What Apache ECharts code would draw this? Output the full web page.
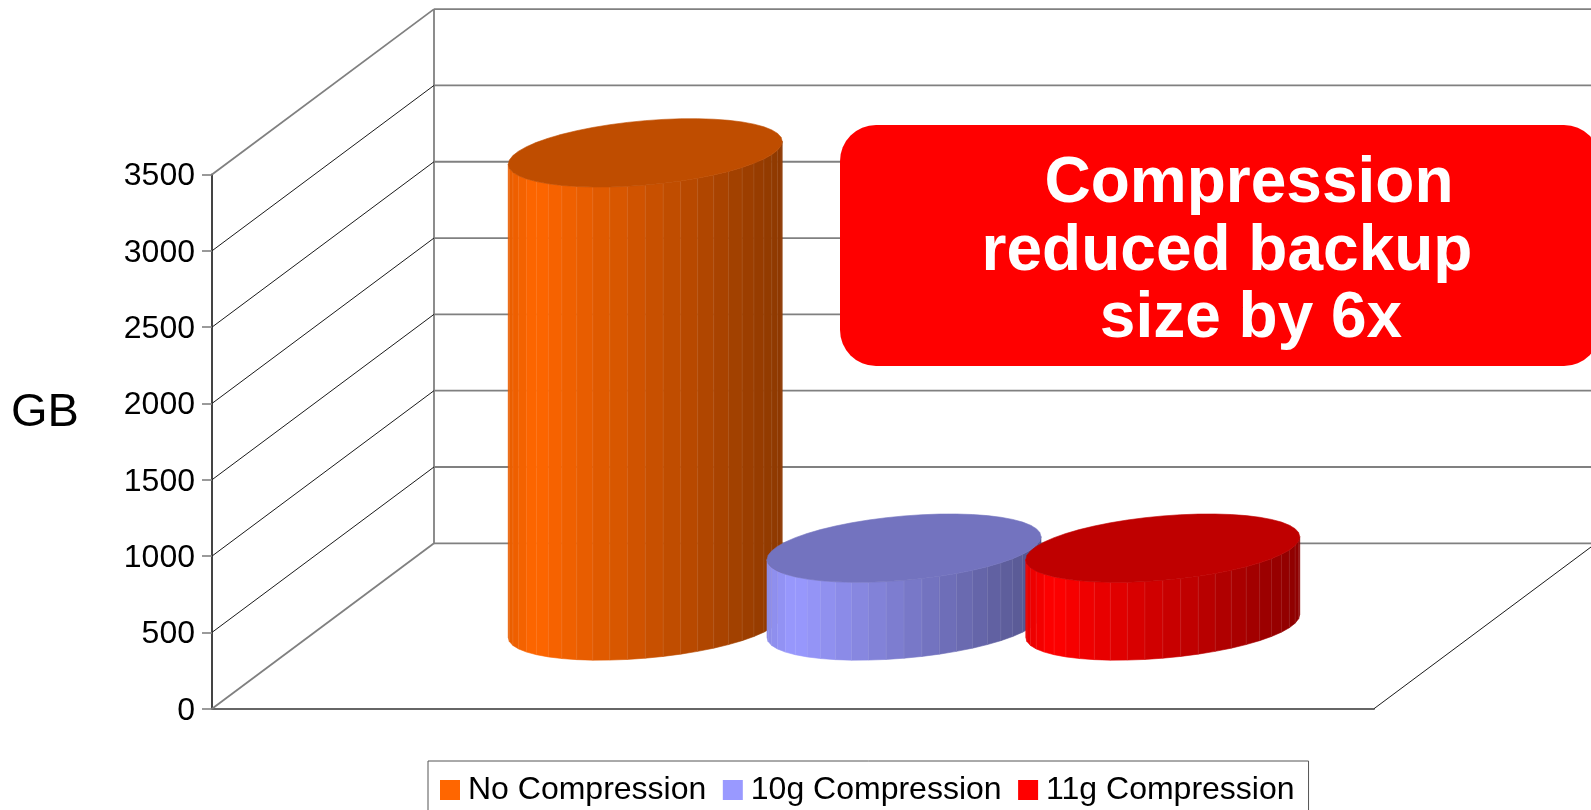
<!DOCTYPE html>
<html>
<head>
<meta charset="utf-8">
<style>html,body{margin:0;padding:0;background:#fff;overflow:hidden}#c{width:1591px;height:810px}</style>
<script src="https://cdn.jsdelivr.net/npm/echarts@6/dist/echarts.min.js"></script>
</head>
<body>
<div id="c"></div>
<script>
// ---- data ----
const categories = ['Backup size'];
const seriesNames = ['No Compression', '10g Compression', '11g Compression'];
const noCompression = [3100];
const compression10g = [510];
const compression11g = [510];
const yTicks = [0, 500, 1000, 1500, 2000, 2500, 3000, 3500];
const calloutLines = ['Compression', 'reduced backup', 'size by 6x'];
const axisTitle = 'GB';

// ---- style / projection ----
const FONT = '"Liberation Sans", Arial, sans-serif';
const baseColors = [[255, 102, 0], [153, 153, 255], [255, 0, 0]];
const rgb = (c, f) => 'rgb(' + c.map(v => Math.round(v * f)).join(',') + ')';
const hex = c => rgb(c, 1);
const DEPTH_X = 222, DEPTH_Y = 165.4;      // wall depth in screen px
const SPACING = 0.2227;                    // cylinder spacing, share of the category band
const RADIUS = 137, EXT_Y = 34.2, SKEW = 46;
const FACETS = 48;

function shade(u) {
  return u < -0.8 ? 1 - (-0.8 - u) * 0.45 : 1 - (u + 0.8) * 0.25;
}

function wallItem(params, api) {
  const y0 = api.coord([0, 0]);
  const band = api.size([1, 0])[0];
  const left = y0[0] - band / 2, right = y0[0] + band / 2;
  const v = api.value(0);
  const y = api.coord([0, v])[1];
  const edge = v === 0 || v === 3500;
  const children = [
    { type: 'line', shape: { x1: left, y1: y, x2: left + DEPTH_X, y2: y - DEPTH_Y },
      style: { stroke: edge ? '#808080' : '#1a1a1a', lineWidth: edge ? 1.8 : 1 } },
    { type: 'line', shape: { x1: left + DEPTH_X, y1: y - DEPTH_Y, x2: right + DEPTH_X, y2: y - DEPTH_Y },
      style: { stroke: '#808080', lineWidth: 1.8 } }
  ];
  if (v === 0) {
    children.push(
      { type: 'line', shape: { x1: right, y1: y, x2: right + DEPTH_X, y2: y - DEPTH_Y },
        style: { stroke: '#1a1a1a', lineWidth: 1 } },
      { type: 'line', shape: { x1: left + DEPTH_X, y1: y - DEPTH_Y, x2: left + DEPTH_X, y2: api.coord([0, 3500])[1] - DEPTH_Y },
        style: { stroke: '#808080', lineWidth: 1.8 } }
    );
  }
  return { type: 'group', children };
}

function cylinderItem(index) {
  return function (params, api) {
    const base = api.coord([0, 0]);
    const top = api.coord([0, api.value(0)]);
    const band = api.size([1, 0])[0];
    const cx = base[0] + (index - 1) * SPACING * band + DEPTH_X / 2;
    const by = base[1] - DEPTH_Y / 2;
    const ty = top[1] - DEPTH_Y / 2;
    const a = Math.sqrt(RADIUS * RADIUS - SKEW * SKEW);
    const t0 = Math.atan2(SKEW, a);
    const pt = (k) => {
      const t = t0 + Math.PI + (k / FACETS) * 2 * Math.PI;
      return [a * Math.cos(t) + SKEW * Math.sin(t), -EXT_Y * Math.sin(t)];
    };
    const color = baseColors[index];
    const children = [];
    for (let k = 0; k < FACETS / 2; k++) {
      const p = pt(k), q = pt(k + 1);
      const u = (p[0] + q[0]) / 2 / RADIUS;
      const fill = rgb(color, shade(u));
      children.push({
        type: 'polygon',
        shape: { points: [[cx + p[0], ty + p[1]], [cx + q[0], ty + q[1]], [cx + q[0], by + q[1]], [cx + p[0], by + p[1]]] },
        style: { fill, stroke: fill, lineWidth: 0.6 }
      });
      if (k > 0) {
        children.push({
          type: 'line',
          shape: { x1: cx + p[0], y1: ty + p[1], x2: cx + p[0], y2: by + p[1] },
          style: { stroke: 'rgba(255,255,255,0.08)', lineWidth: 1 }
        });
      }
    }
    const outline = [];
    for (let k = 0; k < FACETS; k++) {
      const p = pt(k);
      outline.push([cx + p[0], ty + p[1]]);
    }
    const topFill = rgb(color, 0.75);
    children.push({ type: 'polygon', shape: { points: outline }, style: { fill: topFill, stroke: topFill, lineWidth: 0.6 } });
    return { type: 'group', children };
  };
}

const values = [noCompression, compression10g, compression11g];
const calloutY = [216.5, 284.5, 351.5];
const calloutX = [1249, 1227, 1251];

const option = {
  animation: false,
  backgroundColor: '#fff',
  textStyle: { fontFamily: FONT },
  grid: { left: 212, top: 174.5, width: 1162, height: 534.2 },
  legend: {
    data: seriesNames,
    left: 428, top: 761,
    orient: 'horizontal',
    icon: 'rect',
    itemWidth: 20, itemHeight: 20, itemGap: 16.5,
    padding: [13, 14, 8, 12],
    borderColor: '#555', borderWidth: 1,
    selectedMode: false,
    textStyle: { fontFamily: FONT, fontSize: 32, color: '#000', padding: [0, 0, 0, 3] }
  },
  xAxis: {
    type: 'category', data: categories,
    axisLabel: { show: false }, axisTick: { show: false },
    axisLine: { lineStyle: { color: '#666', width: 1.8 } },
    splitLine: { show: false }
  },
  yAxis: {
    type: 'value', min: 0, max: 3500, interval: 500,
    axisLine: { show: true, lineStyle: { color: '#444', width: 2 } },
    axisTick: { show: true, length: 10, lineStyle: { color: '#808080', width: 1.6 } },
    axisLabel: {
      color: '#000', fontFamily: FONT, fontSize: 32, margin: 17,
      formatter: v => '{t|' + v + '}',
      rich: { t: { color: '#000', fontFamily: FONT, fontSize: 32, padding: [4, 0, 0, 0] } }
    },
    splitLine: { show: false }
  },
  series: [
    {
      type: 'custom', name: 'walls', silent: true, z: 1,
      data: yTicks.map(v => [v]),
      encode: { y: 0 },
      renderItem: wallItem
    }
  ].concat(seriesNames.map((name, i) => ({
    type: 'custom', name, z: 2 + i,
    itemStyle: { color: hex(baseColors[i]) },
    data: values[i].map(v => [v]),
    encode: { y: 0 },
    renderItem: cylinderItem(i)
  }))),
  graphic: [
    { type: 'text', z: 21, x: 45, y: 413, style: { text: axisTitle, fill: '#000', font: '47px ' + FONT, textAlign: 'center', textVerticalAlign: 'middle' } },
    { type: 'rect', z: 20, shape: { x: 840, y: 125, width: 760, height: 241, r: 36 }, style: { fill: '#ff0000' } }
  ].concat(calloutLines.map((t, i) => ({
    type: 'text', z: 21, x: calloutX[i], y: calloutY[i],
    style: { text: t, fill: '#fff', font: 'bold 64px ' + FONT, textAlign: 'center', textVerticalAlign: 'bottom' }
  })))
};

const chart = echarts.init(document.getElementById('c'), null, { renderer: 'canvas' });
chart.setOption(option);
</script>
</body>
</html>
